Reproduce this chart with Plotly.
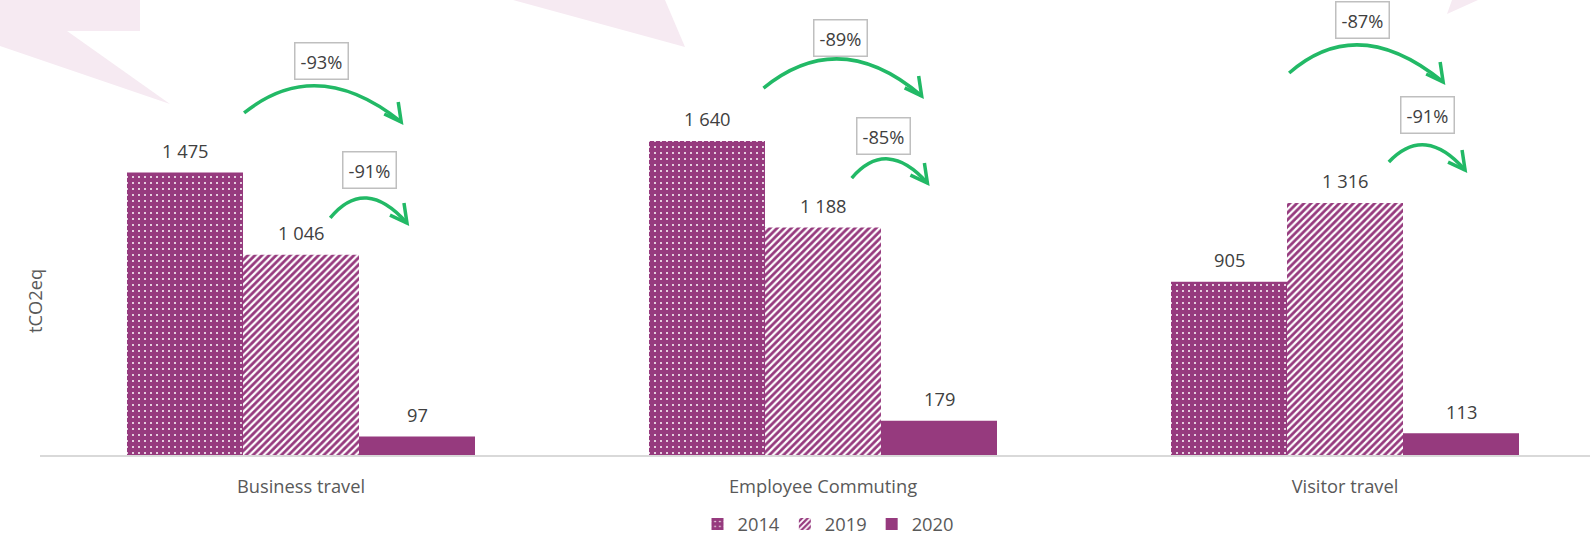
import plotly.graph_objects as go

# ---------------- data ----------------
categories = ["Business travel", "Employee Commuting", "Visitor travel"]
years = ["2014", "2019", "2020"]
v2014 = [1475, 1640, 905]
v2019 = [1046, 1188, 1316]
v2020 = [97, 179, 113]
change_vs_2014 = ["-93%", "-89%", "-87%"]
change_vs_2019 = ["-91%", "-85%", "-91%"]

# ---------------- layout constants ----------------
W, H = 1592, 538
ML, MR, MT, MB = 40, 2, 0, 83
PW, PH = W - ML - MR, H - MT - MB
CAT_PX = 522.0                     # pixel width of one category slot
X_RANGE = [-0.5, -0.5 + PW / CAT_PX]
Y_MAX = 2376
Y_RANGE = [0, Y_MAX]
PX_PER_UNIT = PH / Y_MAX

PURPLE = "#963A7E"
GREEN = "#22B966"
TEXT = "#404040"
TEXT2 = "#595959"
PINK = "#F6EAF2"
FONT = "Open Sans"
FS = 18.3

x_idx = list(range(len(categories)))

fig = go.Figure()
patterns = [
    dict(shape=".", fgcolor="white", bgcolor=PURPLE, size=6, solidity=0.09, fillmode="replace"),
    dict(shape="/", fgcolor="white", bgcolor=PURPLE, size=5, solidity=0.45, fillmode="replace"),
    dict(shape="", fillmode="replace"),
]
series = [v2014, v2019, v2020]
for name, vals, pat in zip(years, series, patterns):
    fig.add_trace(go.Bar(
        x=x_idx, y=vals, name=name,
        marker=dict(color=PURPLE, line=dict(width=0), pattern=pat),
        hoverinfo="skip",
    ))

annotations = []
# value labels above bars
bar_w = (1 - 1/3) / 3
offsets = [-bar_w, 0, bar_w]
for off, vals in zip(offsets, series):
    for i, v in enumerate(vals):
        annotations.append(dict(
            x=i + off, y=v, xref="x", yref="y",
            text=f"{v:,}".replace(",", " "), showarrow=False,
            yshift=22, yanchor="middle",
            font=dict(family=FONT, size=FS, color=TEXT),
        ))

# decoration positions (category offset, y in axis units)
big_arc = [
    [(-0.109, 1786), (0.036, 1927), (0.192, 1739)],
    [(-0.114, 1916), (0.035, 2068), (0.189, 1875)],
    [(-0.107, 1995), (0.033, 2141), (0.188, 1948)],
]
small_arc = [
    [(0.056, 1238), (0.126, 1342), (0.203, 1211)],
    [(0.055, 1446), (0.125, 1546), (0.200, 1420)],
    [(0.084, 1530), (0.155, 1619), (0.230, 1488)],
]
big_box = [(0.040, 2057), (0.034, 2178), (0.033, 2271)]
small_box = [(0.132, 1488), (0.115, 1666), (0.158, 1775)]

shapes = []


def px_dx(p):
    return p / CAT_PX


def px_dy(p):
    return -p / PX_PER_UNIT


def arc(i, spec):
    (sx, sy), (px_, py), (ex, ey) = spec
    sx += i; px_ += i; ex += i
    cx = 2 * px_ - (sx + ex) / 2
    cy = 2 * py - (sy + ey) / 2
    path = f"M {sx},{sy} Q {cx},{cy} {ex},{ey}"
    shapes.append(dict(type="path", path=path, xref="x", yref="y",
                       line=dict(color=GREEN, width=3.5), layer="above"))
    h1 = (ex + px_dx(-3), ey + px_dy(-20))
    h2 = (ex + px_dx(-17), ey + px_dy(-8))
    hp = f"M {h1[0]},{h1[1]} L {ex},{ey} L {h2[0]},{h2[1]}"
    shapes.append(dict(type="path", path=hp, xref="x", yref="y",
                       line=dict(color=GREEN, width=3.5), layer="above"))


for i in x_idx:
    arc(i, big_arc[i])
    arc(i, small_arc[i])

for i, (lab, pos) in enumerate(zip(change_vs_2014, big_box)):
    annotations.append(dict(x=i + pos[0], y=pos[1], xref="x", yref="y", text=lab,
                            showarrow=False, bgcolor="white", bordercolor="#BFBFBF",
                            borderwidth=1.5, borderpad=5,
                            font=dict(family=FONT, size=FS, color=TEXT)))
for i, (lab, pos) in enumerate(zip(change_vs_2019, small_box)):
    annotations.append(dict(x=i + pos[0], y=pos[1], xref="x", yref="y", text=lab,
                            showarrow=False, bgcolor="white", bordercolor="#BFBFBF",
                            borderwidth=1.5, borderpad=5,
                            font=dict(family=FONT, size=FS, color=TEXT)))


# background pink decorative shapes (pixel -> paper)
def pp(x, y):
    return ((x - ML) / PW, (H - MB - y) / PH)


def poly(points):
    pts = [pp(x, y) for x, y in points]
    d = "M " + " L ".join(f"{a},{b}" for a, b in pts) + " Z"
    shapes.append(dict(type="path", path=d, xref="paper", yref="paper",
                       fillcolor=PINK, line=dict(width=0), layer="below"))


poly([(0, 0), (140, 0), (140, 31), (67, 31), (170, 104), (0, 46)])
poly([(513, 0), (665, 0), (685, 47)])
poly([(1452, 0), (1478, 0), (1447, 14)])

# y-axis title
annotations.append(dict(x=(34 - ML) / PW, y=(H - MB - 301) / PH, xref="paper", yref="paper",
                        xanchor="center", yanchor="middle",
                        text="tCO2eq", textangle=-90, showarrow=False,
                        font=dict(family=FONT, size=FS, color=TEXT2)))

fig.update_layout(
    width=W, height=H,
    margin=dict(l=ML, r=MR, t=MT, b=MB, autoexpand=False),
    paper_bgcolor="white", plot_bgcolor="rgba(0,0,0,0)",
    barmode="group", bargap=1/3, bargroupgap=0,
    showlegend=True,
    legend=dict(orientation="h", x=(828 - ML) / PW, y=(H - MB - 524) / PH,
                xanchor="center", yanchor="middle",
                font=dict(family=FONT, size=FS, color=TEXT2),
                itemwidth=30, traceorder="normal"),
    xaxis=dict(range=X_RANGE, tickvals=x_idx, ticktext=categories,
               showgrid=False, zeroline=False, showline=True,
               linecolor="#D9D9D9", linewidth=1.5, ticks="",
               ticklabelstandoff=14,
               tickfont=dict(family=FONT, size=FS, color=TEXT2)),
    yaxis=dict(range=Y_RANGE, showgrid=False, zeroline=False, showline=False,
               showticklabels=False, ticks=""),
    annotations=annotations,
    shapes=shapes,
    font=dict(family=FONT),
)

fig.write_html("out.html", config={"displayModeBar": False},
               post_script="document.body.style.margin='0';document.body.style.overflow='hidden';")
